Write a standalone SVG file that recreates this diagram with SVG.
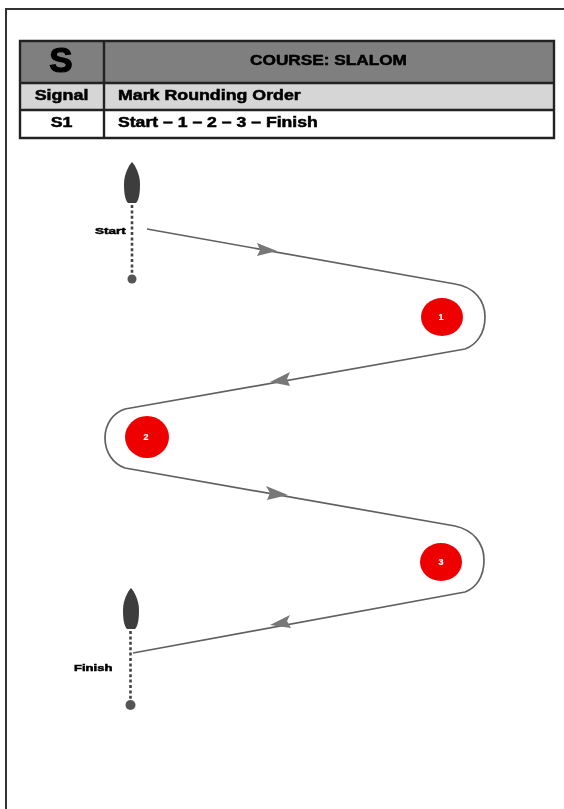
<svg xmlns="http://www.w3.org/2000/svg" width="564" height="809" viewBox="0 0 564 809">
<defs>
<filter id="soft" x="-5%" y="-5%" width="110%" height="110%"><feGaussianBlur stdDeviation="0.7"/></filter>
<path id="boat" d="M0 0C3 3 8 12 8 22C8 31 7 38 4 41L-4 41C-7 38 -8 31 -8 22C-8 12 -3 3 0 0Z"/>
</defs>
<style>
text{font-family:"Liberation Sans",Arial,sans-serif;font-weight:bold;fill:#000;stroke:#000;stroke-width:.5}
.grid{fill:none;stroke:#222;stroke-width:2.4}
.course{fill:none;stroke:#606060;stroke-width:1.7}
.head{fill:#777}
.boat{fill:#3c3c3c}
.line{stroke:#444;stroke-width:2.6;stroke-dasharray:3 2.4;fill:none}
.pin{fill:#555}
.mark{fill:#ee0000}
.num{fill:#fff;stroke:#fff;stroke-width:.2;font-size:9px;text-anchor:middle}
.lab{font-size:9px}
.cell{font-size:14px}
.big{stroke-width:1.2}
</style>
<rect width="564" height="809" fill="#fff"/>
<g filter="url(#soft)">
<path id="frame" d="M6 809V9H564" fill="none" stroke="#333" stroke-width="2"/>
<g id="table">
<rect x="20" y="41" width="534" height="42" fill="#7f7f7f"/>
<rect x="20" y="83" width="534" height="27" fill="#d6d6d6"/>
<rect x="20" y="110" width="534" height="28" fill="#fff"/>
<path class="grid" d="M20 41H554V138H20ZM20 83H554M20 110H554M104 41V138"/>
<text class="big" x="61" y="72" font-size="35" text-anchor="middle">S</text>
<text transform="translate(328.500 65) scale(1.23 1)" font-size="14" text-anchor="middle">COURSE: SLALOM</text>
<text transform="translate(61.500 100) scale(1.28 1)" class="cell" text-anchor="middle">Signal</text>
<text transform="translate(118 100) scale(1.27 1)" class="cell">Mark Rounding Order</text>
<text transform="translate(61.500 127) scale(1.27 1)" class="cell" text-anchor="middle">S1</text>
<text transform="translate(118 127) scale(1.26 1)" class="cell">Start – 1 – 2 – 3 – Finish</text>
</g>
<g id="connectors">
<path class="course" d="M147 229L455 284C474 287 485 300 485 317C485 334 476 345 465 349L125 409C113 413 105 424 105 438C105 452 113 464 125 468L455 526C473 530 484 543 484 560C484 577 476 588 465 592L133 653"/>
<path class="head" d="M257 243L277 251L257 256L260 250Z"/>
<path class="head" d="M290 372L270 382L290 386L287 379Z"/>
<path class="head" d="M266 486L288 495L267 500L270 493Z"/>
<path class="head" d="M290 615L270 625L291 628L287 621Z"/>
</g>
<g id="start-boat">
<use href="#boat" x="132" y="162" class="boat"/>
<path class="line" d="M132 205V275"/>
<circle class="pin" cx="132" cy="279" r="4.5"/>
<text class="lab" transform="translate(95 234) scale(1.5 1)">Start</text>
</g>
<g id="finish-boat">
<use href="#boat" x="131" y="588" class="boat"/>
<path class="line" d="M130.500 631V700"/>
<circle class="pin" cx="130.500" cy="705" r="5"/>
<text class="lab" transform="translate(74 671) scale(1.45 1)">Finish</text>
</g>
<g id="mark-1"><ellipse class="mark" cx="442" cy="317" rx="21" ry="19"/><text class="num" x="441" y="320">1</text></g>
<g id="mark-2"><ellipse class="mark" cx="147" cy="437" rx="22" ry="21"/><text class="num" x="146" y="440">2</text></g>
<g id="mark-3"><ellipse class="mark" cx="441" cy="562" rx="21" ry="19"/><text class="num" x="441" y="565">3</text></g>
</g>
</svg>
